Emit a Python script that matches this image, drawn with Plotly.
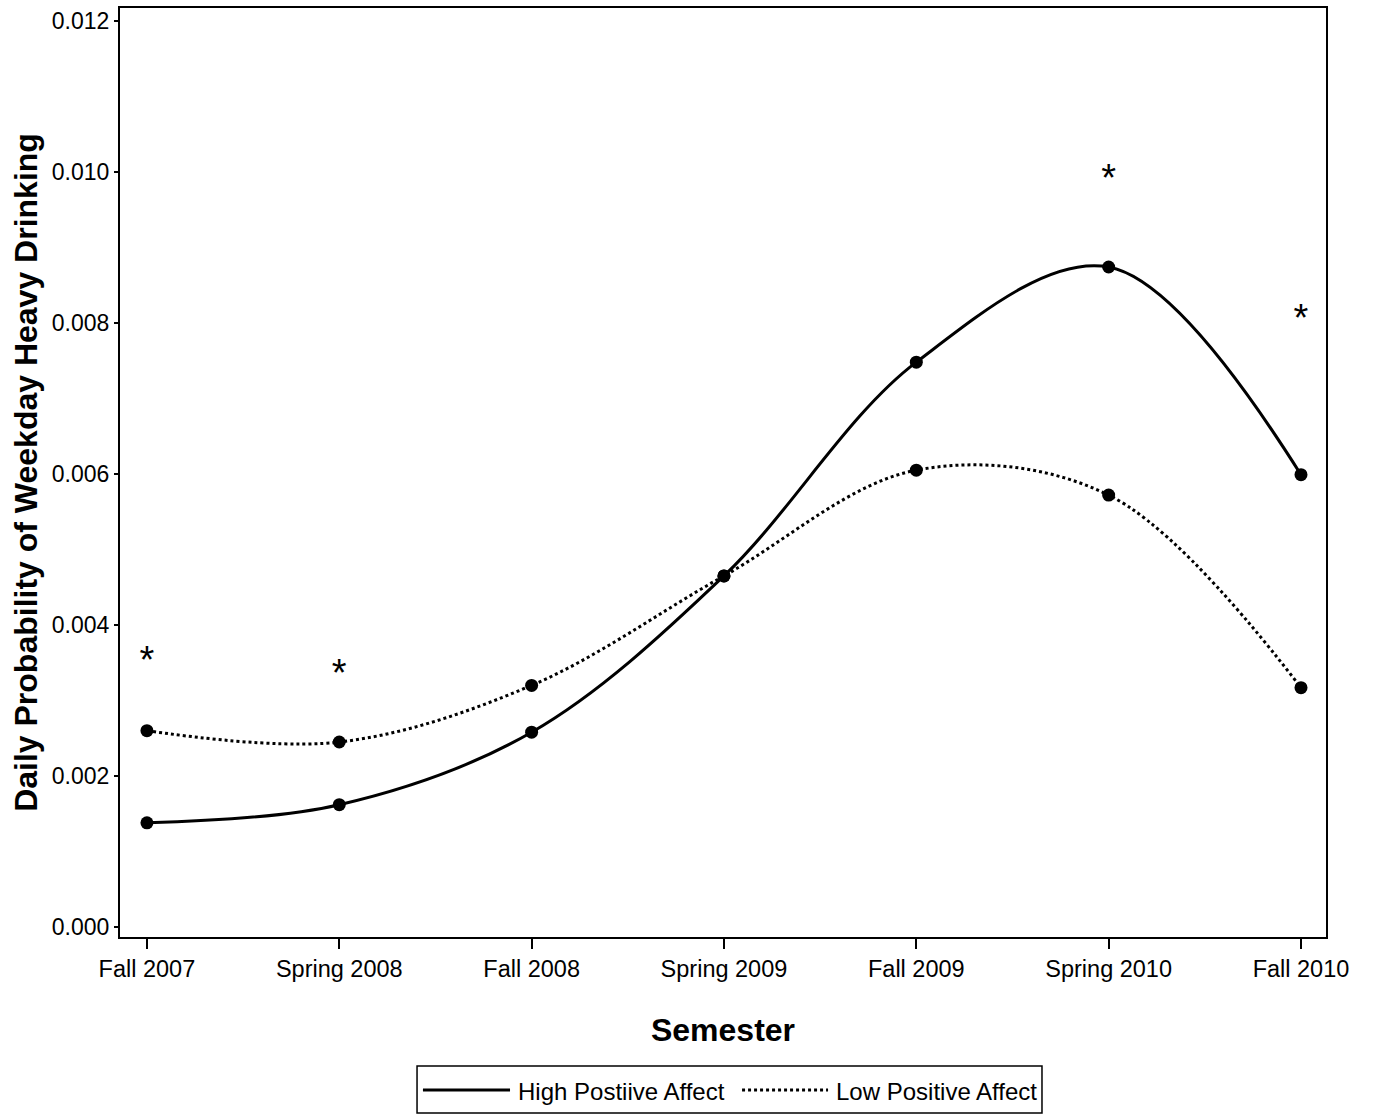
import plotly.graph_objects as go

semesters = ["Fall 2007", "Spring 2008", "Fall 2008", "Spring 2009", "Fall 2009", "Spring 2010", "Fall 2010"]
high_pa = [0.00138, 0.00162, 0.00258, 0.00465, 0.00748, 0.00874, 0.00599]
low_pa = [0.00260, 0.00245, 0.00320, 0.00465, 0.00605, 0.00572, 0.00317]
star_semesters = ["Fall 2007", "Spring 2008", "Spring 2010", "Fall 2010"]
star_values = [0.00349, 0.00332, 0.00987, 0.00802]
y_ticks = [0.000, 0.002, 0.004, 0.006, 0.008, 0.010, 0.012]
legend_labels = ["High Postiive Affect", "Low Positive Affect"]

xi = list(range(len(semesters)))
star_x = [semesters.index(s) for s in star_semesters]
font = "Liberation Sans, Arial, sans-serif"

fig = go.Figure()
fig.add_trace(go.Scatter(
    x=xi, y=high_pa, mode="lines+markers", name=legend_labels[0],
    line=dict(color="black", width=3, shape="spline", smoothing=1.0),
    marker=dict(symbol="circle", size=13, color="black"),
    showlegend=False,
))
fig.add_trace(go.Scatter(
    x=xi, y=low_pa, mode="lines+markers", name=legend_labels[1],
    line=dict(color="black", width=3, dash="dot", shape="spline", smoothing=1.0),
    marker=dict(symbol="circle", size=13, color="black"),
    showlegend=False,
))
fig.add_trace(go.Scatter(
    x=star_x, y=star_values, mode="text", text=["*"] * len(star_x),
    textfont=dict(family=font, size=38, color="black"),
    showlegend=False, hoverinfo="skip",
))

# Manual legend box (paper coordinates)
fig.add_shape(type="rect", xref="paper", yref="paper", x0=0.2463, x1=0.7645, y0=-0.1894, y1=-0.1389,
              line=dict(color="black", width=1.5), fillcolor="white")
fig.add_shape(type="line", xref="paper", yref="paper", x0=0.2512, x1=0.3234, y0=-0.1647, y1=-0.1647,
              line=dict(color="black", width=3))
fig.add_shape(type="line", xref="paper", yref="paper", x0=0.5158, x1=0.5871, y0=-0.1647, y1=-0.1647,
              line=dict(color="black", width=3, dash="dot"))
fig.add_annotation(xref="paper", yref="paper", x=0.3284, y=-0.1668, xanchor="left", yanchor="middle",
                   text=legend_labels[0], showarrow=False, font=dict(family=font, size=24, color="black"))
fig.add_annotation(xref="paper", yref="paper", x=0.5920, y=-0.1668, xanchor="left", yanchor="middle",
                   text=legend_labels[1], showarrow=False, font=dict(family=font, size=24, color="black"))

fig.update_layout(
    width=1376, height=1115,
    margin=dict(l=120, r=50, t=8, b=178, autoexpand=False),
    paper_bgcolor="white", plot_bgcolor="white",
    font=dict(family=font, color="black", size=23),
    xaxis=dict(
        range=[-0.14, 6.13], tickmode="array", tickvals=xi, ticktext=semesters,
        showgrid=False, zeroline=False, showline=True, linecolor="black", linewidth=2,
        mirror=True, ticks="outside", ticklen=10, tickwidth=2, tickcolor="black",
        tickfont=dict(size=23.5), automargin=False,
        title=dict(text="<b>Semester</b>", font=dict(size=32), standoff=37),
    ),
    yaxis=dict(
        range=[-0.000132, 0.01217], tickmode="array", tickvals=y_ticks,
        ticktext=[f"{v:.3f}" for v in y_ticks],
        showgrid=False, zeroline=False, showline=True, linecolor="black", linewidth=2,
        mirror=True, ticks="outside", ticklen=4, tickwidth=2, tickcolor="black",
        tickfont=dict(size=23), automargin=False,
        title=dict(text="<b>Daily Probability of Weekday Heavy Drinking</b>", font=dict(size=32), standoff=5),
    ),
    showlegend=False,
)

fig.write_html("out.html", config={"displayModeBar": False},
               post_script="document.body.style.margin='0';")
